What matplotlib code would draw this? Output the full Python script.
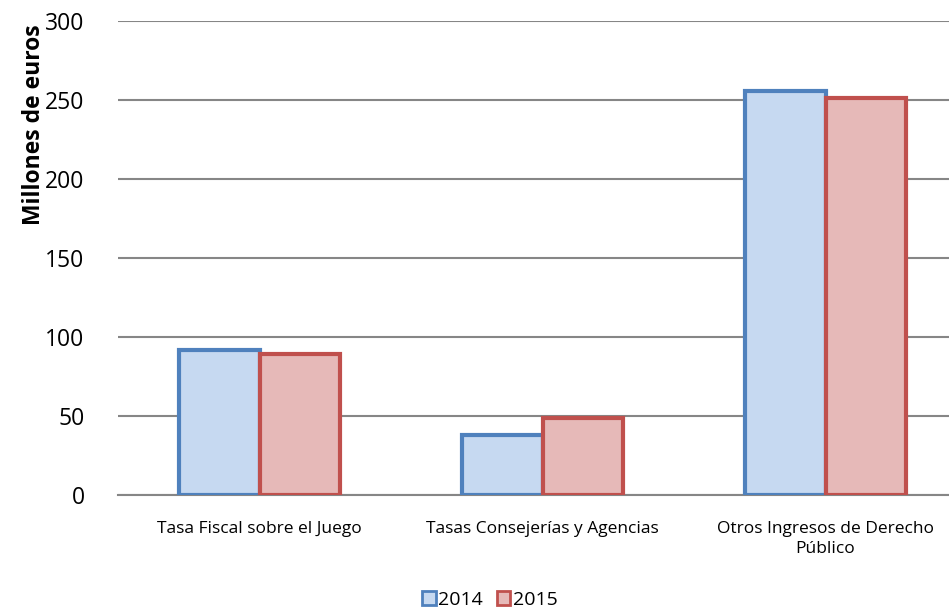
import matplotlib
matplotlib.use('Agg')
import matplotlib.pyplot as plt
import numpy as np

# data
categories = ['Tasa Fiscal sobre el Juego', 'Tasas Consejerías y Agencias',
              'Otros Ingresos de Derecho\nPúblico']
v2014 = [92, 38, 256]
v2015 = [89, 48.5, 251]
years = ['2014', '2015']

plt.rcParams['font.family'] = ['Open Sans', 'DejaVu Sans']

fig = plt.figure(figsize=(9.49, 6.08), dpi=100)
ax = fig.add_axes([118/949, (608-495)/608, 831/949, (495-21)/608])

x = np.arange(len(categories))
w = 0.283
ax.bar(x - w/2, v2014, w, color='#C6D9F1', edgecolor='#4F81BD', linewidth=3, label=years[0], zorder=3)
ax.bar(x + w/2, v2015, w, color='#E6B9B8', edgecolor='#C0504D', linewidth=3, label=years[1], zorder=3)

ax.set_ylim(0, 300)
ax.set_xlim(-0.5, -0.5 + 831/283)
ax.set_yticks(range(0, 301, 50))
ax.yaxis.grid(True, color='#868686', linewidth=1.5, zorder=0)
for s in ['top', 'right', 'left']:
    ax.spines[s].set_visible(False)
ax.spines['bottom'].set_color('#868686')
ax.spines['bottom'].set_linewidth(1.5)
ax.tick_params(axis='y', length=0, labelsize=16.5, pad=24)
ax.tick_params(axis='x', length=0, labelsize=12.5, pad=19)
ax.set_xticks(x)
ax.set_xticklabels(categories, linespacing=1.3)

fig.text(34/949, 1 - 125/608, 'Millones de euros', rotation=90, fontsize=16.5,
         fontweight='bold', ha='center', va='center')

leg = ax.legend(loc='center', bbox_to_anchor=(490/949, 1 - 600/608), bbox_transform=fig.transFigure,
                ncol=2, frameon=False, fontsize=14, handlelength=0.7, handleheight=0.7,
                handletextpad=0.15, columnspacing=0.7)
for h in leg.legend_handles:
    h.set_linewidth(2)

plt.savefig('out.png', dpi=100)
